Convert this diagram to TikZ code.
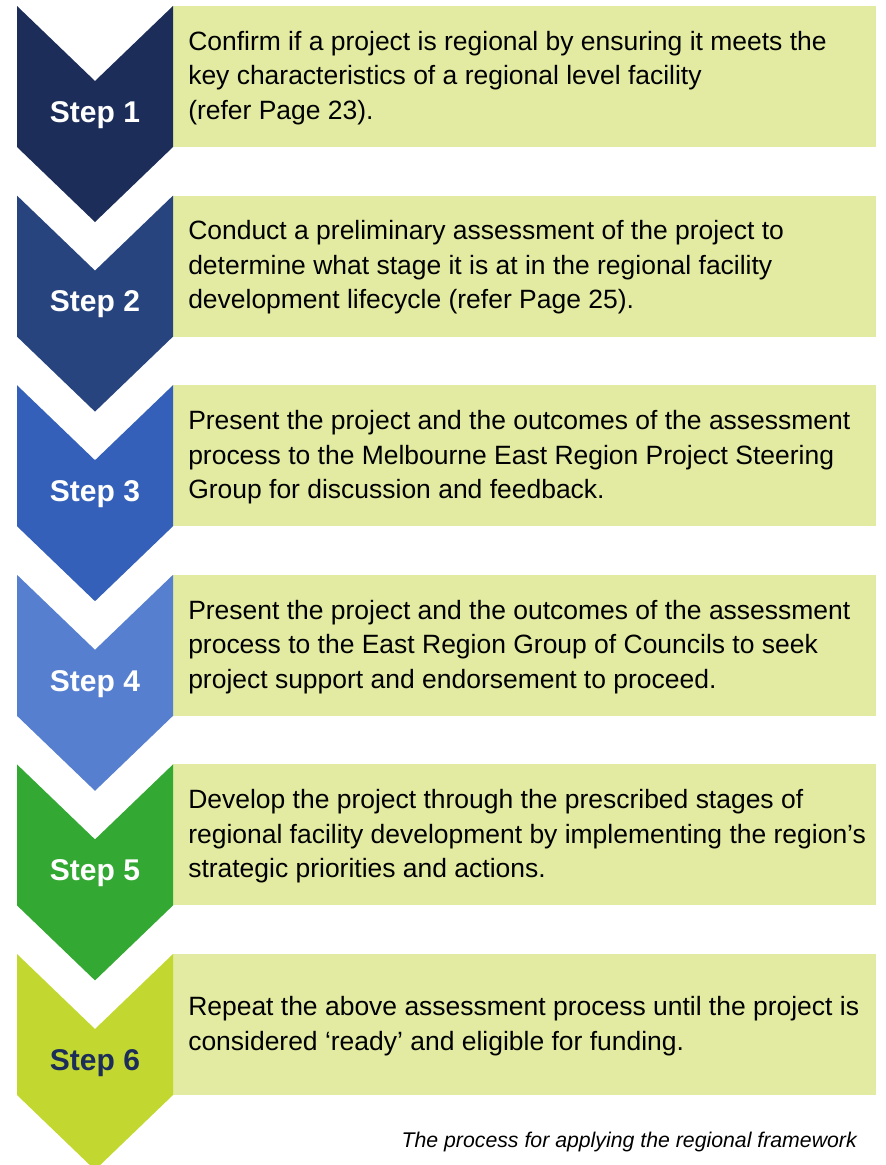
\documentclass[tikz,border=0pt]{standalone}
\usepackage{fontspec}
\setmainfont{Liberation Sans}
\usepackage{tikz}
\definecolor{navy}{RGB}{28, 45, 90}
\definecolor{steel}{RGB}{39, 68, 127}
\definecolor{royal}{RGB}{52, 96, 186}
\definecolor{sky}{RGB}{86, 127, 207}
\definecolor{leaf}{RGB}{51, 168, 50}
\definecolor{lime}{RGB}{194, 216, 49}
\definecolor{pale}{RGB}{227, 235, 162}
\def\half{78}
\def\tip{75}
\def\side{141}
\def\boxl{173}
\def\boxr{876}

\begin{document}
\begin{tikzpicture}[x=0.75pt, y=-0.75pt,
    steplabel/.style={font=\fontsize{22.5}{27}\selectfont\bfseries, text=white},
    steptext/.style={anchor=west, align=left, inner sep=0pt, font=\fontsize{19.85}{25.9}\selectfont}]

                 \useasboundingbox (0, 0) rectangle (886, 1165);

                 \fill[pale] (\boxl, 6) rectangle (\boxr, 6+\side);
                 \fill[pale] (\boxl, 195.6) rectangle (\boxr, 195.6+\side);
                 \fill[pale] (\boxl, 385.2) rectangle (\boxr, 385.2+\side);
                 \fill[pale] (\boxl, 574.8) rectangle (\boxr, 574.8+\side);
                 \fill[pale] (\boxl, 764.4) rectangle (\boxr, 764.4+\side);
                 \fill[pale] (\boxl, 954) rectangle (\boxr, 954+\side);

                 \fill[navy] (17, 6) -- ++(\half, \tip) -- ++(\half, -\tip) --
                 ++(0, \side) -- ++(-\half, \tip) -- ++(-\half, -\tip) -- cycle;
                 \fill[steel] (17, 195.6) -- ++(\half, \tip) -- ++(\half, -\tip) --
                 ++(0, \side) -- ++(-\half, \tip) -- ++(-\half, -\tip) -- cycle;
                 \fill[royal] (17, 385.2) -- ++(\half, \tip) -- ++(\half, -\tip) --
                 ++(0, \side) -- ++(-\half, \tip) -- ++(-\half, -\tip) -- cycle;
                 \fill[sky] (17, 574.8) -- ++(\half, \tip) -- ++(\half, -\tip) --
                 ++(0, \side) -- ++(-\half, \tip) -- ++(-\half, -\tip) -- cycle;
                 \fill[leaf] (17, 764.4) -- ++(\half, \tip) -- ++(\half, -\tip) --
                 ++(0, \side) -- ++(-\half, \tip) -- ++(-\half, -\tip) -- cycle;
                 \fill[lime] (17, 954) -- ++(\half, \tip) -- ++(\half, -\tip) --
                 ++(0, \side) -- ++(-\half, \tip) -- ++(-\half, -\tip) -- cycle;

                 \node[steplabel] (s1) at (95, 115) {Step 1};
                 \node[steplabel] (s2) at (95, 304.6) {Step 2};
                 \node[steplabel] (s3) at (95, 494.2) {Step 3};
                 \node[steplabel] (s4) at (95, 683.8) {Step 4};
                 \node[steplabel] (s5) at (95, 873.4) {Step 5};
                 \node[steplabel, text=navy] (s6) at (95, 1063) {Step 6};

                 \node[steptext] (t1) at (188, 78) {Confirm if a project is regional by ensuring it meets the\\
                 key characteristics of a regional level facility\\
                 (refer Page 23).};
                 \node[steptext] (t2) at (188, 267.6) {Conduct a preliminary assessment of the project to\\
                 determine what stage it is at in the regional facility\\
                 development lifecycle (refer Page 25).};
                 \node[steptext] (t3) at (188, 457.2) {Present the project and the outcomes of the assessment\\
                 process to the Melbourne East Region Project Steering\\
                 Group for discussion and feedback.};
                 \node[steptext] (t4) at (188, 646.8) {Present the project and the outcomes of the assessment\\
                 process to the East Region Group of Councils to seek\\
                 project support and endorsement to proceed.};
                 \node[steptext] (t5) at (188, 836.4) {Develop the project through the prescribed stages of\\
                 regional facility development by implementing the region’s\\
                 strategic priorities and actions.};
                 \node[steptext] (t6) at (188, 1026) {Repeat the above assessment process until the project is\\
                 considered ‘ready’ and eligible for funding.};

                 \node[anchor=base east, inner sep=0pt, font=\fontsize{15.95}{18}\selectfont\itshape] (caption)
                 at (857, 1147) {The process for applying the regional framework};

\end{tikzpicture}
\end{document}
